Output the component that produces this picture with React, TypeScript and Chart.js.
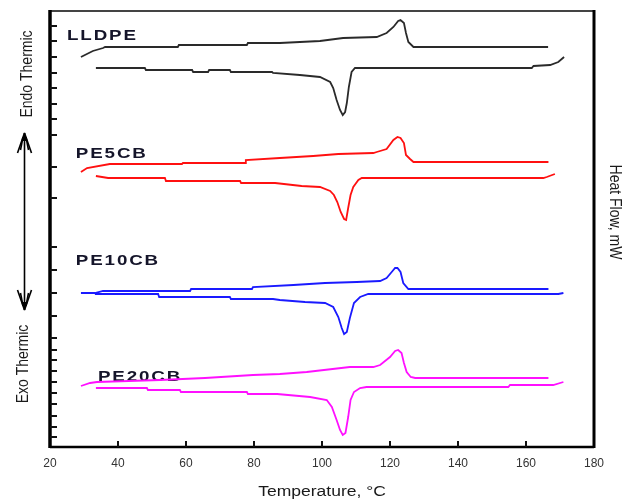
import { useEffect, useRef } from "react";
import { Chart, registerables } from "chart.js";
Chart.register(...registerables);

// ---- axis data ----
const xTicks = [20, 40, 60, 80, 100, 120, 140, 160, 180];
const yTickMarks = [42.1, 40.6, 39.0, 37.4, 35.9, 34.3, 32.8, 31.2, 28.0, 24.9, 20.0, 17.7, 15.4, 13.1, 10.9, 9.7, 8.7, 7.6, 6.5, 5.4, 4.3, 3.1, 2.0, 1.0];

// ---- LLDPE ----
const lldpeHeatT = [29.1, 32.6, 35.6, 36.2, 57.6, 57.9, 77.9, 78.2, 87.6, 99.4, 106.2, 116.1, 119.0, 121.0, 122.4, 123.1, 124.1, 124.7, 125.4, 126.9, 166.5];
const lldpeHeatHF = [39.0, 39.6, 39.9, 40.0, 40.0, 40.2, 40.2, 40.4, 40.4, 40.6, 40.9, 41.0, 41.4, 42.0, 42.6, 42.7, 42.4, 41.4, 40.5, 40.0, 40.0];
const lldpeCoolT = [33.5, 47.9, 48.2, 61.8, 62.1, 66.5, 66.8, 72.9, 73.2, 85.3, 85.6, 93.5, 99.4, 102.4, 103.3, 104.3, 105.3, 106.1, 106.8, 107.3, 107.9, 108.7, 109.7, 161.7, 162.2, 167.1, 169.5, 171.2];
const lldpeCoolHF = [37.9, 37.9, 37.7, 37.7, 37.5, 37.5, 37.7, 37.7, 37.5, 37.5, 37.4, 37.2, 37.0, 36.5, 35.9, 34.7, 33.7, 33.2, 33.5, 34.4, 36.0, 37.5, 37.9, 37.9, 38.1, 38.2, 38.5, 39.0];

// ---- PE5CB ----
const pe5HeatT = [29.1, 30.9, 37.6, 58.8, 59.1, 77.4, 77.6, 87.6, 97.4, 104.8, 115.1, 116.1, 119.0, 121.0, 122.2, 123.1, 124.1, 124.7, 125.9, 126.9, 166.6];
const pe5HeatHF = [27.5, 27.9, 28.3, 28.3, 28.4, 28.4, 28.7, 28.9, 29.1, 29.3, 29.4, 29.5, 29.8, 30.7, 31.0, 30.9, 30.4, 29.2, 28.8, 28.5, 28.5];
const pe5CoolT = [33.5, 37.1, 53.8, 54.1, 75.9, 76.2, 86.2, 94.0, 99.4, 102.4, 103.5, 104.5, 105.5, 106.5, 107.1, 107.7, 108.4, 109.2, 110.7, 111.7, 165.1, 166.1, 168.5];
const pe5CoolHF = [27.1, 26.9, 26.9, 26.6, 26.6, 26.4, 26.4, 26.1, 26.0, 25.6, 25.2, 24.5, 23.5, 22.8, 22.7, 23.9, 25.2, 26.0, 26.7, 26.9, 26.9, 27.0, 27.3];

// ---- PE10CB ----
const pe10HeatT = [29.1, 33.2, 35.6, 61.2, 61.5, 79.4, 79.7, 91.6, 100.9, 110.2, 117.1, 119.0, 120.5, 121.5, 122.2, 123.1, 123.9, 125.4, 166.6];
const pe10HeatHF = [15.4, 15.4, 15.6, 15.6, 15.8, 15.8, 16.0, 16.2, 16.4, 16.5, 16.6, 16.9, 17.5, 17.9, 17.9, 17.5, 16.4, 15.8, 15.8];
const pe10CoolT = [33.2, 51.8, 52.1, 72.9, 73.2, 85.6, 87.6, 95.0, 100.9, 103.3, 104.8, 105.8, 106.5, 107.3, 108.2, 109.4, 111.2, 113.6, 169.5, 171.0];
const pe10CoolHF = [15.3, 15.3, 15.0, 15.0, 14.8, 14.8, 14.7, 14.5, 14.4, 14.0, 13.0, 11.9, 11.3, 11.5, 12.9, 14.4, 15.0, 15.3, 15.3, 15.4];

// ---- PE20CB ----
const pe20HeatT = [29.1, 31.8, 33.8, 52.4, 65.6, 79.7, 87.6, 95.5, 108.2, 115.1, 117.1, 120.0, 121.5, 122.4, 123.4, 124.1, 124.9, 126.1, 127.4, 166.6];
const pe20HeatHF = [6.1, 6.4, 6.5, 6.7, 6.9, 7.2, 7.3, 7.5, 8.0, 8.0, 8.2, 9.0, 9.6, 9.7, 9.4, 8.4, 7.5, 7.0, 6.9, 6.9];
const pe20CoolT = [33.5, 48.5, 48.8, 58.2, 58.5, 77.9, 78.2, 86.8, 96.5, 101.4, 102.9, 104.3, 105.3, 106.1, 106.9, 107.7, 108.4, 109.4, 111.2, 113.1, 154.8, 155.3, 168.0, 171.0];
const pe20CoolHF = [5.9, 5.9, 5.7, 5.7, 5.5, 5.5, 5.3, 5.3, 5.0, 4.7, 4.0, 2.7, 1.7, 1.2, 1.4, 3.0, 4.7, 5.5, 5.9, 6.0, 6.0, 6.2, 6.2, 6.5];

// ---- sample labels ----
const sampleNames = ["LLDPE", "PE5CB", "PE10CB", "PE20CB"];
const sampleLabelT = [25.0, 27.6, 27.6, 34.1];
const sampleLabelHF = [40.7, 28.9, 18.2, 6.6];

const FONT = "'Liberation Sans', Arial, sans-serif";

const series = [
  { t: lldpeHeatT, hf: lldpeHeatHF, color: "#2a2a2a" },
  { t: lldpeCoolT, hf: lldpeCoolHF, color: "#2a2a2a" },
  { t: pe5HeatT, hf: pe5HeatHF, color: "#ff1010" },
  { t: pe5CoolT, hf: pe5CoolHF, color: "#ff1010" },
  { t: pe10HeatT, hf: pe10HeatHF, color: "#1a1aff" },
  { t: pe10CoolT, hf: pe10CoolHF, color: "#1a1aff" },
  { t: pe20HeatT, hf: pe20HeatHF, color: "#ff10ff" },
  { t: pe20CoolT, hf: pe20CoolHF, color: "#ff10ff" },
];

function line(ctx: CanvasRenderingContext2D, x1: number, y1: number, x2: number, y2: number) {
  ctx.beginPath();
  ctx.moveTo(x1, y1);
  ctx.lineTo(x2, y2);
  ctx.stroke();
}

function stretchedText(ctx: CanvasRenderingContext2D, text: string, x: number, y: number, rot: number, sx: number, sy: number, align: CanvasTextAlign) {
  ctx.save();
  ctx.translate(x, y);
  ctx.rotate(rot);
  ctx.scale(sx, sy);
  ctx.textAlign = align;
  ctx.textBaseline = "middle";
  ctx.fillText(text, 0, 0);
  ctx.restore();
}

const decor = {
  id: "decor",
  beforeDatasetsDraw(chart: any) {
    const { ctx, scales } = chart;
    const x = scales.x;
    const y = scales.y;
    ctx.save();
    ctx.fillStyle = "#15152a";
    ctx.font = `bold 15px ${FONT}`;
    (ctx as any).letterSpacing = "1.5px";
    ctx.textBaseline = "alphabetic";
    ctx.textAlign = "left";
    sampleNames.forEach((s, i) => {
      const px = x.getPixelForValue(sampleLabelT[i]);
      const py = y.getPixelForValue(sampleLabelHF[i]);
      ctx.save();
      ctx.translate(px, py);
      ctx.scale(1.25, 1);
      ctx.fillText(s, 0, 0);
      ctx.restore();
    });
    ctx.restore();
  },
  afterDraw(chart: any) {
    const { ctx, chartArea, scales } = chart;
    const { left, right, top, bottom } = chartArea;
    const x = scales.x;
    const y = scales.y;
    ctx.save();
    ctx.lineCap = "butt";
    // frame
    ctx.strokeStyle = "#444";
    ctx.lineWidth = 2;
    line(ctx, left, top, right, top);
    ctx.strokeStyle = "#000";
    ctx.lineWidth = 3.5;
    line(ctx, left, top - 1, left, bottom + 1);
    ctx.lineWidth = 3;
    line(ctx, right, top - 1, right, bottom + 1);
    ctx.lineWidth = 2.5;
    line(ctx, left, bottom, right, bottom);
    // x tick marks (inward)
    ctx.lineWidth = 2;
    ctx.strokeStyle = "#111";
    xTicks.forEach((v) => {
      if (v > x.min && v < x.max) {
        const px = Math.round(x.getPixelForValue(v));
        line(ctx, px, bottom, px, bottom - 6);
      }
    });
    // y tick marks (inward)
    yTickMarks.forEach((v) => {
      const py = Math.round(y.getPixelForValue(v));
      line(ctx, left, py, left + 7, py);
    });

    // axis titles
    ctx.fillStyle = "#1a1a1a";
    ctx.font = `14px ${FONT}`;
    stretchedText(ctx, "Temperature, °C", (left + right) / 2, 492, 0, 1.25, 1, "center");
    stretchedText(ctx, "Heat Flow, mW", 615, 212, Math.PI / 2, 1, 1.2, "center");
    stretchedText(ctx, "Endo Thermic", 27, 74, -Math.PI / 2, 1, 1.2, "center");
    stretchedText(ctx, "Exo Thermic", 23, 364, -Math.PI / 2, 1, 1.2, "center");

    // double arrow
    ctx.strokeStyle = "#000";
    ctx.fillStyle = "#000";
    ctx.lineWidth = 1.6;
    const ax = 24.5;
    const aTop = 133;
    const aBot = 310;
    line(ctx, ax, aTop, ax, aBot);
    line(ctx, ax, aTop, ax - 7, aTop + 20);
    line(ctx, ax, aTop, ax + 7, aTop + 20);
    line(ctx, ax - 1.5, aTop + 4, ax - 4, aTop + 17);
    line(ctx, ax + 1.5, aTop + 4, ax + 4, aTop + 17);
    line(ctx, ax, aBot, ax - 7, aBot - 20);
    line(ctx, ax, aBot, ax + 7, aBot - 20);
    line(ctx, ax - 1.5, aBot - 4, ax - 4, aBot - 17);
    line(ctx, ax + 1.5, aBot - 4, ax + 4, aBot - 17);
    ctx.beginPath();
    ctx.moveTo(ax, aBot + 1);
    ctx.lineTo(ax - 2.5, aBot - 8);
    ctx.lineTo(ax + 2.5, aBot - 8);
    ctx.closePath();
    ctx.fill();
    ctx.beginPath();
    ctx.moveTo(ax, aTop - 1);
    ctx.lineTo(ax - 2.5, aTop + 8);
    ctx.lineTo(ax + 2.5, aTop + 8);
    ctx.closePath();
    ctx.fill();
    ctx.restore();
  },
};

export default function App() {
  const ref = useRef<HTMLCanvasElement>(null);
  useEffect(() => {
    const datasets = series.map((s, i) => ({
      label: `curve ${i}`,
      data: s.t.map((t, j) => ({ x: t, y: s.hf[j] })),
      borderColor: s.color,
      backgroundColor: s.color,
      borderWidth: 1.8,
      pointRadius: 0,
      tension: 0,
      fill: false,
    }));
    const chart = new Chart(ref.current as HTMLCanvasElement, {
      type: "line",
      data: { datasets },
      options: {
        responsive: false,
        animation: false,
        devicePixelRatio: 1,
        layout: { padding: { top: 11, right: 32, left: 0, bottom: 0 } },
        plugins: { legend: { display: false }, tooltip: { enabled: false } },
        scales: {
          x: {
            type: "linear",
            min: 20,
            max: 180,
            afterBuildTicks: (s: any) => {
              s.ticks = xTicks.map((v) => ({ value: v }));
            },
            ticks: {
              font: { family: FONT, size: 12 },
              color: "#333",
              padding: 1,
              maxRotation: 0,
              autoSkip: false,
            },
            grid: { display: false },
            border: { display: false },
            afterFit: (s: any) => {
              s.height = 56;
            },
          },
          y: {
            type: "linear",
            min: 0,
            max: 43.6,
            ticks: { display: false },
            grid: { display: false },
            border: { display: false },
            afterFit: (s: any) => {
              s.width = 50;
            },
          },
        },
      } as any,
      plugins: [decor],
    });
    return () => chart.destroy();
  }, []);
  return (
    <div style={{ position: "fixed", left: 0, top: 0, width: 626, height: 503, background: "#fff" }}>
      <canvas ref={ref} width={626} height={503} style={{ display: "block" }} />
    </div>
  );
}
